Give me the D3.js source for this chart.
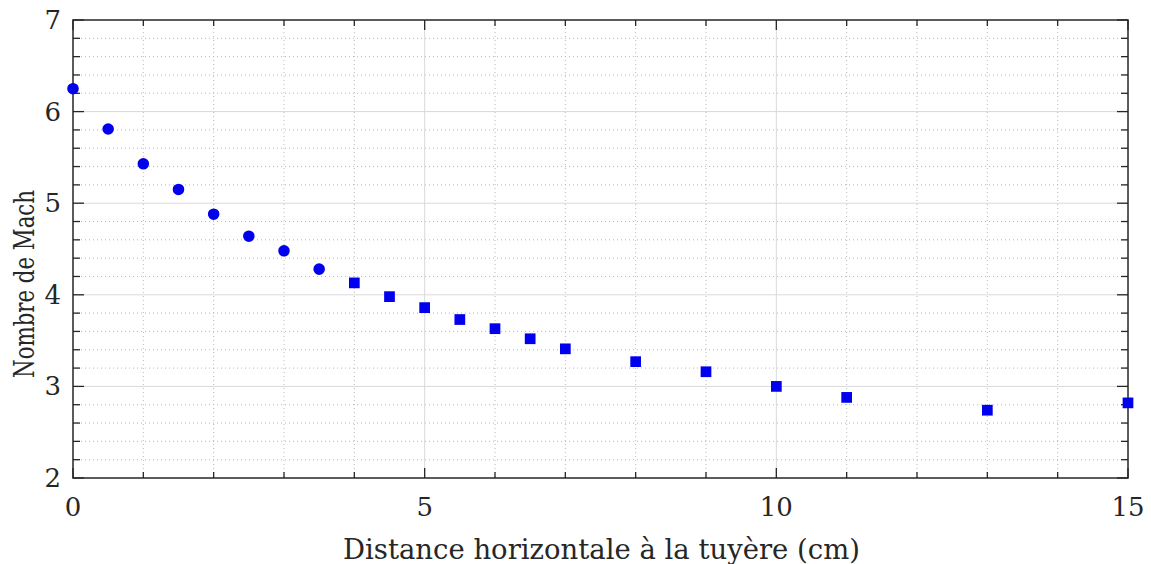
<!DOCTYPE html>
<html><head><meta charset="utf-8">
<script src="https://cdn.jsdelivr.net/npm/d3@7"></script>
<style>body{margin:0;background:#fff}svg{display:block}</style>
</head><body><svg id="c" width="1151" height="564"></svg>
<script>
const distance = [0, 0.5, 1, 1.5, 2, 2.5, 3, 3.5, 4, 4.5, 5, 5.5, 6, 6.5, 7, 8, 9, 10, 11, 13, 15];
const mach = [6.25, 5.81, 5.43, 5.15, 4.88, 4.64, 4.48, 4.28, 4.13, 3.98, 3.86, 3.73, 3.63, 3.52, 3.41, 3.27, 3.16, 3.0, 2.88, 2.74, 2.82];
const shapes = ["circle","circle","circle","circle","circle","circle","circle","circle","square","square","square","square","square","square","square","square","square","square","square","square","square"];
const xTickLabels = [0, 5, 10, 15];
const yTickLabels = [2, 3, 4, 5, 6, 7];
const xTitle = "Distance horizontale à la tuyère (cm)";
const yTitle = "Nombre de Mach";

const svg = d3.select("#c");
const L = 73, R = 1128, T = 20, B = 478;
const x = d3.scaleLinear().domain([0, 15]).range([L, R]);
const y = d3.scaleLinear().domain([2, 7]).range([B, T]);
const font = "'DejaVu Serif', serif";
const axisColor = "#262626";

// minor grid
const xMinor = d3.range(0, 15.001, 1).filter(v => v % 5 !== 0);
const yMinor = d3.range(2, 7.001, 0.2).map(v => +v.toFixed(1)).filter(v => Math.abs(v - Math.round(v)) > 1e-6);
const g = svg.append("g");
g.selectAll(".xm").data(xMinor).join("line")
  .attr("x1", d => x(d)).attr("x2", d => x(d)).attr("y1", T).attr("y2", B)
  .attr("stroke", "#b8b8b8").attr("stroke-width", 1).attr("stroke-dasharray", "1,3");
g.selectAll(".ym").data(yMinor).join("line")
  .attr("x1", L).attr("x2", R).attr("y1", d => y(d)).attr("y2", d => y(d))
  .attr("stroke", "#b8b8b8").attr("stroke-width", 1).attr("stroke-dasharray", "1,3");
// major grid
g.selectAll(".xM").data(xTickLabels.slice(1, -1)).join("line")
  .attr("x1", d => x(d)).attr("x2", d => x(d)).attr("y1", T).attr("y2", B)
  .attr("stroke", "#d9d9d9").attr("stroke-width", 1);
g.selectAll(".yM").data(yTickLabels.slice(1, -1)).join("line")
  .attr("x1", L).attr("x2", R).attr("y1", d => y(d)).attr("y2", d => y(d))
  .attr("stroke", "#d9d9d9").attr("stroke-width", 1);

// inward ticks on all four sides
const xAll = d3.range(0, 15.001, 1);
const yAll = d3.range(2, 7.001, 0.2).map(v => +v.toFixed(1));
const isMajX = v => v % 5 === 0;
const isMajY = v => Math.abs(v - Math.round(v)) < 1e-6;
[[B, 1], [T, -1]].forEach(([yy, dir]) => {
  svg.append("g").selectAll("line").data(xAll).join("line")
    .attr("x1", d => x(d)).attr("x2", d => x(d))
    .attr("y1", yy).attr("y2", d => yy - dir * (isMajX(d) ? 10 : 6))
    .attr("stroke", axisColor).attr("stroke-width", 1.3);
});
[[L, 1], [R, -1]].forEach(([xx, dir]) => {
  svg.append("g").selectAll("line").data(yAll).join("line")
    .attr("y1", d => y(d)).attr("y2", d => y(d))
    .attr("x1", xx).attr("x2", d => xx + dir * (isMajY(d) ? 11 : 7))
    .attr("stroke", axisColor).attr("stroke-width", 1.3);
});
svg.append("rect").attr("x", L).attr("y", T).attr("width", R - L).attr("height", B - T)
  .attr("fill", "none").attr("stroke", axisColor).attr("stroke-width", 1.5);

// tick labels
svg.append("g").selectAll("text").data(xTickLabels).join("text")
  .attr("x", d => x(d)).attr("y", B + 38).attr("text-anchor", "middle")
  .attr("font-family", font).attr("font-size", 26).attr("fill", axisColor).text(d => d);
svg.append("g").selectAll("text").data(yTickLabels).join("text")
  .attr("x", L - 12).attr("y", d => y(d) + 9).attr("text-anchor", "end")
  .attr("font-family", font).attr("font-size", 26).attr("fill", axisColor).text(d => d);

// titles
svg.append("text").attr("x", (L + R) / 2 + 1).attr("y", 559).attr("text-anchor", "middle")
  .attr("font-family", font).attr("font-size", 27).attr("fill", axisColor)
  .attr("textLength", 517).attr("lengthAdjust", "spacingAndGlyphs").text(xTitle);
svg.append("text").attr("transform", `translate(34,${284}) rotate(-90)`).attr("text-anchor", "middle")
  .attr("font-family", font).attr("font-size", 27).attr("fill", axisColor)
  .attr("textLength", 188).attr("lengthAdjust", "spacingAndGlyphs").text(yTitle);

// points
const pts = distance.map((d, i) => ({ d, m: mach[i], s: shapes[i] }));
svg.append("g").selectAll("path").data(pts).join("path")
  .attr("transform", p => `translate(${x(p.d)},${y(p.m)})`)
  .attr("d", p => d3.symbol(p.s === "circle" ? d3.symbolCircle : d3.symbolSquare, p.s === "circle" ? 105 : 115)())
  .attr("fill", "#0000ee");
</script></body></html>
